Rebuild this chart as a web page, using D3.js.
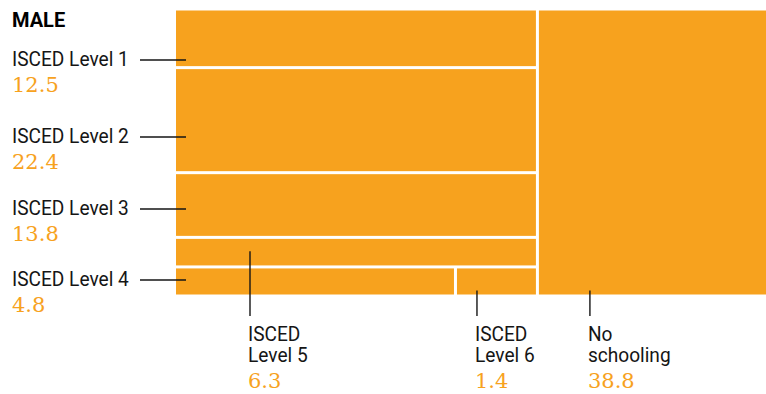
<!DOCTYPE html>
<html><head><meta charset="utf-8">
<script src="https://cdn.jsdelivr.net/npm/d3@7"></script>
<style>
html,body{margin:0;padding:0;background:#fff;}
svg{display:block;}
</style></head>
<body>
<script>
// ---- data ----
const title = "MALE";
const categories = ["ISCED Level 1","ISCED Level 2","ISCED Level 3","ISCED Level 5","ISCED Level 4","ISCED Level 6","No schooling"];
const values = [12.5, 22.4, 13.8, 6.3, 4.8, 1.4, 38.8];
// grouping of the mosaic: left column (stacked), bottom row inside it, and the right block
const leftColumn = ["ISCED Level 1","ISCED Level 2","ISCED Level 3","ISCED Level 5"];
const bottomRow = ["ISCED Level 4","ISCED Level 6"];
const rightBlock = ["No schooling"];

const W = 766, H = 394;
const orange = "#F7A21E";
const ink = "#151515";

const val = Object.fromEntries(categories.map((c,i)=>[c, values[i]]));
const leaf = c => ({name:c, value: val[c]});
const tree = {name:"root", children:[
  {name:"left", children:[...leftColumn.map(leaf), {name:"bottom", children: bottomRow.map(leaf)}]},
  ...rightBlock.map(leaf)
]};

const area = {x:176, y:10.5, w:590, h:284};
const root = d3.hierarchy(tree).sum(d => d.value || 0);
d3.treemap()
  .size([area.w, area.h])
  .paddingInner(3)
  .round(false)
  .tile((node,x0,y0,x1,y1) => (node.depth % 2 === 0 ? d3.treemapDice : d3.treemapSlice)(node,x0,y0,x1,y1))(root);

const svg = d3.select("body").append("svg").attr("width", W).attr("height", H);
const g = svg.append("g").attr("transform", `translate(${area.x},${area.y})`);
const leaves = root.leaves();
g.selectAll("rect").data(leaves).join("rect")
  .attr("x", d => d.x0).attr("y", d => d.y0)
  .attr("width", d => d.x1 - d.x0).attr("height", d => d.y1 - d.y0)
  .attr("fill", orange);

const cell = Object.fromEntries(leaves.map(d => [d.data.name, {
  x0: d.x0 + area.x, x1: d.x1 + area.x, y0: d.y0 + area.y, y1: d.y1 + area.y}]));

svg.append("text").attr("x", 12).attr("y", 27)
  .attr("font-family", "Roboto, sans-serif").attr("font-weight", 700)
  .attr("font-size", 20).attr("fill", "#000").text(title);

const labelFont = "Roboto, 'Noto Sans', sans-serif";
const numFont = "'DejaVu Serif', serif";
function addLabel(x, y, lines, value){
  const t = svg.append("g");
  lines.forEach((ln,i) => {
    t.append("text").attr("transform", `translate(${x},${y + i*21.6}) scale(0.98,1)`)
      .attr("font-family", labelFont).attr("font-size", 19.5).attr("fill", ink).text(ln);
  });
  t.append("text").attr("x", x).attr("y", y + (lines.length-1)*21.6 + 26)
    .attr("font-family", numFont).attr("font-size", 21).attr("fill", orange)
    .attr("font-weight", 300).text(value.toFixed(1));
}

// left annotations (leader line y positions)
const leftAnn = [
  {name:"ISCED Level 1", ly:60},
  {name:"ISCED Level 2", ly:137},
  {name:"ISCED Level 3", ly:209},
  {name:"ISCED Level 4", ly:280}
];
leftAnn.forEach(a => {
  svg.append("line").attr("x1", 140).attr("x2", cell[a.name].x0 + 10)
    .attr("y1", a.ly).attr("y2", a.ly).attr("stroke", ink).attr("stroke-width", 1.4);
  addLabel(12, a.ly + 6, [a.name], val[a.name]);
});

// bottom annotations
const bottomAnn = [
  {name:"ISCED Level 5", dx:74, y1: c => (c.y0 + c.y1)/2 - 1, lines:["ISCED","Level 5"]},
  {name:"ISCED Level 6", dx:20, y1: c => c.y1 - 4, lines:["ISCED","Level 6"]},
  {name:"No schooling", dx:51, y1: c => c.y1 - 4, lines:["No","schooling"]}
];
bottomAnn.forEach(a => {
  const c = cell[a.name];
  const x = c.x0 + a.dx;
  svg.append("line").attr("x1", x).attr("x2", x).attr("y1", a.y1(c)).attr("y2", 316)
    .attr("stroke", ink).attr("stroke-width", 1.4);
  addLabel(x - 2, 340.7, a.lines, val[a.name]);
});
</script>
</body></html>
